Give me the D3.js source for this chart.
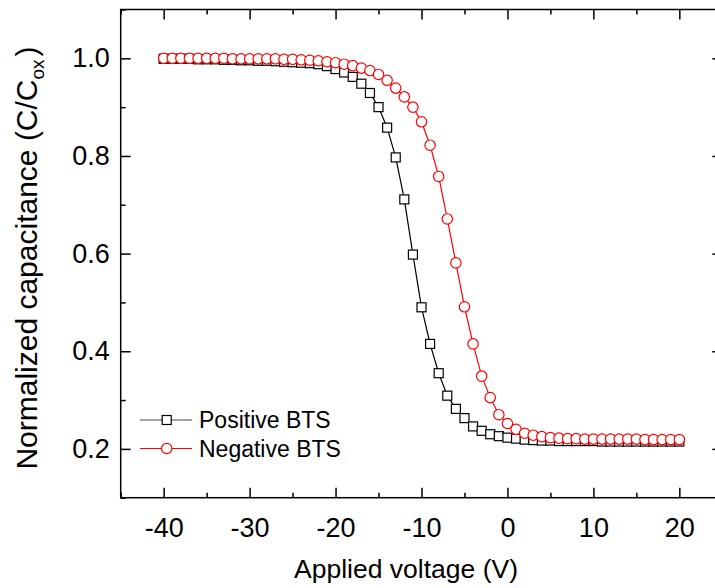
<!DOCTYPE html>
<html>
<head>
<meta charset="utf-8">
<script src="https://cdn.jsdelivr.net/npm/d3@7"></script>
<style>
  body { margin: 0; background: #fff; }
  svg { display: block; font-family: "Liberation Sans", Arial, sans-serif; }
</style>
</head>
<body>
<script>
// Applied voltage (V), one point per volt
const voltage = [-40, -39, -38, -37, -36, -35, -34, -33, -32, -31, -30, -29, -28, -27, -26, -25, -24, -23, -22, -21,
  -20, -19, -18, -17, -16, -15, -14, -13, -12, -11, -10, -9, -8, -7, -6, -5, -4, -3, -2, -1,
  0, 1, 2, 3, 4, 5, 6, 7, 8, 9, 10, 11, 12, 13, 14, 15, 16, 17, 18, 19, 20];

// Normalized capacitance C/Cox
const positiveBTS = [0.999, 0.999, 0.999, 0.999, 0.998, 0.998, 0.998, 0.997, 0.997, 0.996, 0.996, 0.995, 0.995, 0.994, 0.993, 0.992, 0.991, 0.990, 0.988, 0.984,
  0.978, 0.971, 0.962, 0.948, 0.929, 0.900, 0.858, 0.797, 0.711, 0.598, 0.490, 0.415, 0.355, 0.309, 0.282, 0.263, 0.246, 0.237, 0.230, 0.226,
  0.223, 0.221, 0.219, 0.218, 0.217, 0.217, 0.216, 0.216, 0.216, 0.216, 0.216, 0.215, 0.215, 0.215, 0.215, 0.215, 0.215, 0.215, 0.215, 0.215, 0.215];

const negativeBTS = [1.000, 1.000, 1.000, 1.000, 1.000, 1.000, 1.000, 1.000, 0.999, 0.999, 0.999, 0.999, 0.999, 0.999, 0.998, 0.998, 0.997, 0.996, 0.995, 0.993,
  0.991, 0.988, 0.985, 0.980, 0.975, 0.967, 0.955, 0.939, 0.921, 0.900, 0.870, 0.822, 0.758, 0.671, 0.581, 0.491, 0.415, 0.349, 0.305, 0.270,
  0.252, 0.240, 0.232, 0.228, 0.225, 0.223, 0.222, 0.221, 0.221, 0.220, 0.220, 0.220, 0.220, 0.220, 0.220, 0.220, 0.219, 0.219, 0.219, 0.219, 0.219];

const xTicks = [-40, -30, -20, -10, 0, 10, 20];
const xMinor = [-45, -35, -25, -15, -5, 5, 15, 25];
const yTicks = [0.2, 0.4, 0.6, 0.8, 1.0];
const yMinor = [0.1, 0.3, 0.5, 0.7, 0.9, 1.1];
const legendLabels = ["Positive BTS", "Negative BTS"];

var width = 715, height = 588;
var plot = { left: 120.7, right: 722.3, top: 9.5, bottom: 497.7 };

var svg = d3.select("body").append("svg")
  .attr("width", width)
  .attr("height", height);

var x = d3.scaleLinear().domain([-45, 25]).range([plot.left, plot.right]);
var y = d3.scaleLinear().domain([0.1, 1.1]).range([plot.bottom, plot.top]);

// frame + ticks on all four sides, pointing inward
function styleAxis(g) {
  g.select(".domain").remove();
  g.selectAll(".tick line").attr("stroke", "#000").attr("stroke-width", 1.5);
  g.selectAll(".tick text").attr("fill", "#000").attr("font-size", 27);
}

// plain hyphen for negatives, like the original
var xFormat = d => String(d);

svg.append("g").attr("transform", `translate(0,${plot.bottom})`)
  .call(d3.axisBottom(x).tickValues(xTicks).tickSize(-10).tickPadding(20).tickFormat(xFormat))
  .call(styleAxis);
svg.append("g").attr("transform", `translate(0,${plot.bottom})`)
  .call(d3.axisBottom(x).tickValues(xMinor).tickSize(-5).tickFormat(""))
  .call(styleAxis);
svg.append("g").attr("transform", `translate(0,${plot.top})`)
  .call(d3.axisTop(x).tickValues(xTicks).tickSize(-10).tickFormat(""))
  .call(styleAxis);
svg.append("g").attr("transform", `translate(0,${plot.top})`)
  .call(d3.axisTop(x).tickValues(xMinor).tickSize(-5).tickFormat(""))
  .call(styleAxis);

svg.append("g").attr("transform", `translate(${plot.left},0)`)
  .call(d3.axisLeft(y).tickValues(yTicks).tickSize(-10).tickPadding(11).tickFormat(d3.format(".1f")))
  .call(styleAxis);
svg.append("g").attr("transform", `translate(${plot.left},0)`)
  .call(d3.axisLeft(y).tickValues(yMinor).tickSize(-5).tickFormat(""))
  .call(styleAxis);
svg.append("g").attr("transform", `translate(${plot.right},0)`)
  .call(d3.axisRight(y).tickValues(yTicks).tickSize(-10).tickFormat(""))
  .call(styleAxis);
svg.append("g").attr("transform", `translate(${plot.right},0)`)
  .call(d3.axisRight(y).tickValues(yMinor).tickSize(-5).tickFormat(""))
  .call(styleAxis);

svg.append("rect")
  .attr("x", plot.left).attr("y", plot.top)
  .attr("width", plot.right - plot.left).attr("height", plot.bottom - plot.top)
  .attr("fill", "none").attr("stroke", "#000").attr("stroke-width", 1.5);

// data
var posData = voltage.map((v, i) => ({ v: v, c: positiveBTS[i] }));
var negData = voltage.map((v, i) => ({ v: v, c: negativeBTS[i] }));
var line = d3.line().x(d => x(d.v)).y(d => y(d.c));
var sq = 9;

svg.append("path").datum(posData)
  .attr("d", line).attr("fill", "none").attr("stroke", "#000").attr("stroke-width", 1.2);
svg.selectAll(".sq").data(posData).enter().append("rect")
  .attr("class", "sq")
  .attr("x", d => x(d.v) - sq / 2).attr("y", d => y(d.c) - sq / 2)
  .attr("width", sq).attr("height", sq)
  .attr("fill", "#fff").attr("stroke", "#000").attr("stroke-width", 1.2);

svg.append("path").datum(negData)
  .attr("d", line).attr("fill", "none").attr("stroke", "#ff0000").attr("stroke-width", 1.2);
svg.selectAll(".circ").data(negData).enter().append("circle")
  .attr("class", "circ")
  .attr("cx", d => x(d.v)).attr("cy", d => y(d.c)).attr("r", 5.2)
  .attr("fill", "#fff").attr("stroke", "#ff0000").attr("stroke-width", 1.2);

// legend
var legend = svg.append("g");
legendLabels.forEach(function (label, i) {
  var ly = 420 + i * 28.5;
  var col = i === 0 ? "#444" : "#ff0000";
  legend.append("line").attr("x1", 140).attr("x2", 192).attr("y1", ly).attr("y2", ly)
    .attr("stroke", col).attr("stroke-width", 1.2);
  if (i === 0) {
    legend.append("rect").attr("x", 166.7 - sq / 2).attr("y", ly - sq / 2)
      .attr("width", sq).attr("height", sq)
      .attr("fill", "#fff").attr("stroke", "#000").attr("stroke-width", 1.2);
  } else {
    legend.append("circle").attr("cx", 166.7).attr("cy", ly).attr("r", 5.2)
      .attr("fill", "#fff").attr("stroke", "#ff0000").attr("stroke-width", 1.2);
  }
  legend.append("text").attr("x", 199).attr("y", ly).attr("dy", "0.35em")
    .attr("font-size", 23).text(label);
});

// axis titles
svg.append("text")
  .attr("x", 406).attr("y", 578)
  .attr("text-anchor", "middle").attr("font-size", 26.5)
  .text("Applied voltage (V)");

var yt = svg.append("text")
  .attr("transform", "translate(37,258) rotate(-90)")
  .attr("text-anchor", "middle").attr("font-size", 30);
yt.append("tspan").text("Normalized capacitance (C/C");
yt.append("tspan").attr("font-size", 19).attr("dy", 7).text("ox");
yt.append("tspan").attr("dy", -7).attr("dx", 3).text(")");
</script>
</body>
</html>
